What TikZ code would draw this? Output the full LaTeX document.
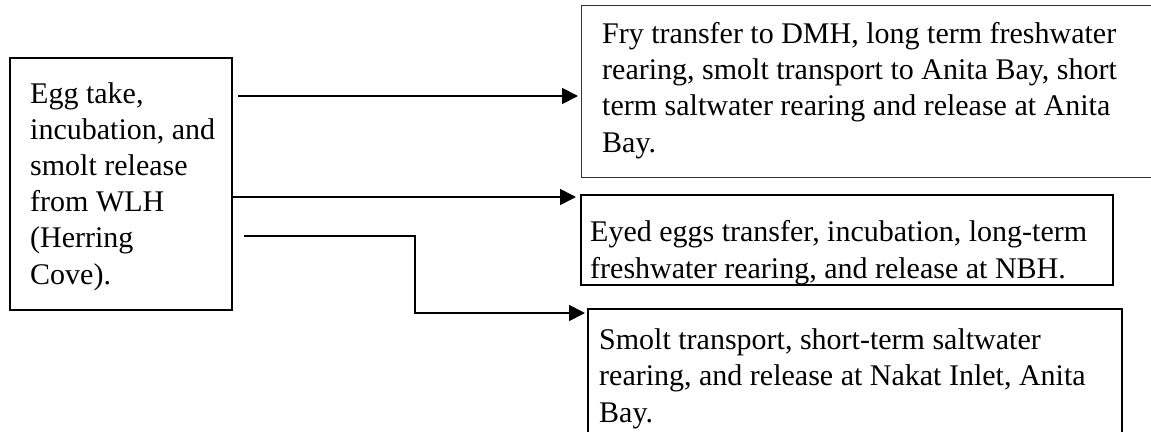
\documentclass[tikz,border=0pt]{standalone}
\usepackage{fontspec}
\setmainfont{Liberation Serif}
\usetikzlibrary{arrows.meta}
\tikzset{
  boxthick/.style={draw=black, line width=1.8pt, inner sep=0pt, anchor=north west},
  boxthin/.style={draw=black!80, line width=1.4pt, inner sep=0pt, anchor=north west},
  txt/.style={inner sep=0pt, anchor=base west, align=left, font=\fontsize{30}{36.2}\selectfont},
  arr/.style={line width=1.8pt, -{Triangle[length=16pt,width=16pt]}},
}
\begin{document}
\begin{tikzpicture}[x=1pt,y=-1pt]
\useasboundingbox (0,0) rectangle (1151,431);
\clip (0,0) rectangle (1151,431);
% boxes
\node[boxthick, minimum width=222pt, minimum height=252pt] (src) at (9,57) {};
\node[boxthin, minimum width=590pt, minimum height=172pt] (fry) at (581,5) {};
\node[boxthick, minimum width=532pt, minimum height=90pt] (eyed) at (580,194) {};
\node[boxthick, minimum width=534pt, minimum height=140pt] (smolt) at (587,308) {};
% texts (anchor = baseline of last line)
\node[txt] (srcT) at (30,284) {Egg take,\\incubation, and\\smolt release\\from WLH\\(Herring\\Cove).};
\node[txt] (fryT) at (602,152) {Fry transfer to DMH, long term freshwater\\rearing, smolt transport to Anita Bay, short\\term saltwater rearing and release at Anita\\Bay.};
\node[txt] (eyedT) at (590,278) {Eyed eggs transfer, incubation, long-term\\freshwater rearing, and release at NBH.};
\node[txt] (smoltT) at (599,422) {Smolt transport, short-term saltwater\\rearing, and release at Nakat Inlet, Anita\\Bay.};
% connectors
\coordinate (a1) at ([shift={(5,39)}]src.north east);
\draw[arr, shorten >=3pt] (a1) -- (a1 -| fry.west);
\coordinate (a2) at ([shift={(0,140)}]src.north east);
\draw[arr, shorten >=4pt] (a2) -- (a2 -| eyed.west);
\coordinate (a3) at ([shift={(11,179)}]src.north east);
\coordinate (e3) at ([shift={(0,5)}]smolt.north west);
\draw[arr, shorten >=2pt] (a3) -- ++(171,0) |- (e3);
\end{tikzpicture}
\end{document}
